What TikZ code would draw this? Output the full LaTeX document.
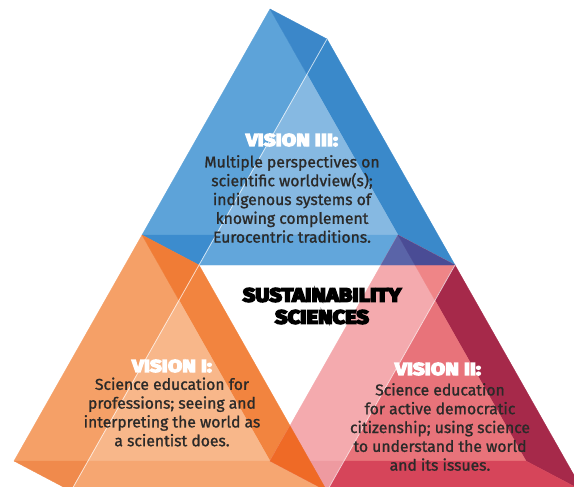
\documentclass[tikz,border=0pt]{standalone}
\usepackage{fontspec}
\setmainfont{Fira Sans}
\newfontfamily\bodyfont{Fira Sans}[FakeBold=1.2]
\newfontfamily\headfont{Fira Sans}[BoldFeatures={FakeBold=8,FakeStretch=1.22}]
\newfontfamily\titlefont{Fira Sans}[BoldFeatures={FakeBold=9,FakeStretch=1.15}]
\definecolor{bMed}{HTML}{5DA3D9}
\definecolor{bTop}{HTML}{3B87C9}
\definecolor{bStrip}{HTML}{3A89CA}
\definecolor{bLight}{HTML}{86B9E2}
\definecolor{bBL}{HTML}{3C8CCE}
\definecolor{bBand}{HTML}{62A6DB}
\definecolor{oMed}{HTML}{F5A067}
\definecolor{oTop}{HTML}{F07C36}
\definecolor{oStrip}{HTML}{F2843F}
\definecolor{oLight}{HTML}{F8B78A}
\definecolor{oBL}{HTML}{F08A4C}
\definecolor{oBand}{HTML}{F6A671}
\definecolor{rMed}{HTML}{F4AAAE}
\definecolor{rTop}{HTML}{EF8587}
\definecolor{rStrip}{HTML}{A6294A}
\definecolor{rLight}{HTML}{E8737A}
\definecolor{rBL}{HTML}{EE9AA0}
\definecolor{rBand}{HTML}{D6455A}
\definecolor{purL}{HTML}{5A64A8}
\definecolor{purR}{HTML}{4A4C95}
\definecolor{hotO}{HTML}{EF6A26}
\definecolor{ink}{HTML}{2B2A29}
\tikzset{
  face/.style={fill=#1, draw=#1, line width=0.3pt, line join=round},
  hl/.style={draw=white, line width=0.8pt, opacity=0.7},
  body/.style={align=center, text=ink, font=\bodyfont\fontsize{15.7}{18.8}\selectfont, inner sep=0pt},
  head/.style={align=center, text=white, font=\headfont\bfseries\fontsize{17}{18}\selectfont, inner sep=0pt},
  title/.style={align=center, text=black, font=\titlefont\bfseries\fontsize{19}{22}\selectfont, inner sep=0pt}
}
\newcommand\drawprism[7]{%
  \begin{scope}[shift={#1}]
    \fill[face=#2] (0,0) -- (37,65.3) -- (-54,226) -- (-128,226) -- cycle;
    \fill[face=#3] (0,0) -- (57,30) -- (37,65.3) -- cycle;
    \fill[face=#4] (37,65.3) -- (57,30) -- (185,256) -- (128,226) -- cycle;
    \fill[face=#5] (37,65.3) -- (128,226) -- (-54,226) -- cycle;
    \fill[face=#6] (-128,226) -- (-54,226) -- (-71,256) -- cycle;
    \fill[face=#7] (-54,226) -- (128,226) -- (185,256) -- (-71,256) -- cycle;
  \end{scope}}
\begin{document}
\begin{tikzpicture}[x=1pt,y=-1pt]
\clip (0,0) rectangle (574,487);
\fill[white] (0,0) rectangle (574,487);
% prisms
\drawprism{(270,9)}{bMed}{bTop}{bStrip}{bLight}{bBL}{bBand}
\drawprism{(142,235)}{oMed}{oTop}{oStrip}{oLight}{oBL}{oBand}
\drawprism{(398,235)}{rMed}{rTop}{rStrip}{rLight}{rBL}{rBand}
% overlaps
\fill[face=purL] (398,235) -- (415,265) -- (381,265) -- cycle;
\fill[face=purR] (398,235) -- (455,265) -- (415,265) -- cycle;
\fill[face=hotO] (290,425.7) -- (270,461) -- (327,491) -- cycle;
% highlight edges
\draw[hl] (327,39) -- (199,265);
\draw[hl] (199,265) -- (71,491);
\draw[hl] (455,265) -- (327,491);
% texts
\node[head] (h3) at (292,140) {VISION III:};
\node[body] (t3) at (292,199) {Multiple perspectives on\\scientific worldview(s);\\indigenous systems of\\knowing complement\\Eurocentric traditions.};
\node[title] (ss) at (322,306) {SUSTAINABILITY\\SCIENCES};
\node[head] (h1) at (172,366) {VISION I:};
\node[body] (t1) at (172,412) {Science education for\\professions; seeing and\\interpreting the world as\\a scientist does.};
\node[head] (h2) at (438,369) {VISION II:};
\node[body] (t2) at (440,427) {Science education\\for active democratic\\citizenship; using science\\to understand the world\\and its issues.};
\end{tikzpicture}
\end{document}
